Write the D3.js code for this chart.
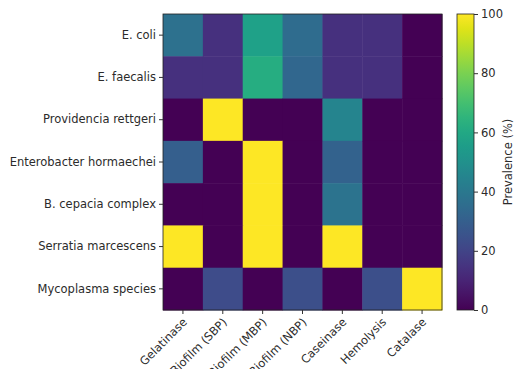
<!DOCTYPE html>
<html><head><meta charset="utf-8">
<script src="https://cdn.jsdelivr.net/npm/d3@7"></script>
<style>body{margin:0;background:#fff}svg{display:block}text{font-family:"DejaVu Sans",sans-serif;fill:#2b2b2b}</style>
</head><body>
<svg id="c" width="515" height="369"></svg>
<script>
const organisms = ["E. coli","E. faecalis","Providencia rettgeri","Enterobacter hormaechei","B. cepacia complex","Serratia marcescens","Mycoplasma species"];
const traits = ["Gelatinase","Biofilm (SBP)","Biofilm (MBP)","Biofilm (NBP)","Caseinase","Hemolysis","Catalase"];
const ecoli        = [37,14,57,35,14,14,0];
const efaecalis    = [14,14,62,33,14,14,0];
const providencia  = [0,100,0,0,45,0,0];
const enterobacter = [30,0,100,0,31,0,0];
const bcepacia     = [0,0,100,0,38,0,0];
const serratia     = [100,0,100,0,100,0,0];
const mycoplasma   = [0,23,0,24,0,24,100];
const colorbarTicks = [0,20,40,60,80,100];
const colorbarLabel = "Prevalence (%)";

const rows = [ecoli,efaecalis,providencia,enterobacter,bcepacia,serratia,mycoplasma];
const svg = d3.select("#c");
const L=163,R=442,T=14,B=310;
const FS="11.5px";
const x = d3.scaleBand().domain(traits).range([L,R]);
const y = d3.scaleBand().domain(organisms).range([T,B]);
const color = d3.scaleSequential(d3.interpolateViridis).domain([0,100]);

const cells=[];
rows.forEach((r,i)=>r.forEach((v,j)=>cells.push({o:organisms[i],t:traits[j],v})));
svg.append("g").selectAll("rect").data(cells).join("rect")
  .attr("x",d=>x(d.t)).attr("y",d=>y(d.o))
  .attr("width",x.bandwidth()+0.5).attr("height",y.bandwidth()+0.5)
  .attr("fill",d=>color(d.v));
svg.append("rect").attr("x",L).attr("y",T).attr("width",R-L).attr("height",B-T)
  .attr("fill","none").attr("stroke","#222").attr("stroke-width",0.8);

const ya = svg.append("g").attr("transform",`translate(${L},0)`)
  .call(d3.axisLeft(y).tickSize(4).tickPadding(3));
ya.select(".domain").remove();
ya.selectAll("text").attr("font-size",FS).attr("font-family","DejaVu Sans");
ya.selectAll("line").attr("stroke","#333");

const xa = svg.append("g").attr("transform",`translate(0,${B})`)
  .call(d3.axisBottom(x).tickSize(4).tickPadding(3));
xa.select(".domain").remove();
xa.selectAll("line").attr("stroke","#333");
xa.selectAll("text").attr("font-size",FS).attr("font-family","DejaVu Sans")
  .attr("text-anchor","end").attr("dy","0.35em")
  .attr("transform","translate(2,10) rotate(-45)").attr("x",0).attr("y",0);

// colorbar
const cbL=457,cbW=17;
const cy = d3.scaleLinear().domain([0,100]).range([B,T]);
const defs = svg.append("defs");
const grad = defs.append("linearGradient").attr("id","g").attr("x1",0).attr("y1",1).attr("x2",0).attr("y2",0);
d3.range(0,1.0001,0.05).forEach(t=>grad.append("stop").attr("offset",t).attr("stop-color",d3.interpolateViridis(t)));
svg.append("rect").attr("x",cbL).attr("y",T).attr("width",cbW).attr("height",B-T)
  .attr("fill","url(#g)").attr("stroke","#222").attr("stroke-width",0.8);
const ca = svg.append("g").attr("transform",`translate(${cbL+cbW},0)`)
  .call(d3.axisRight(cy).tickValues(colorbarTicks).tickSize(4).tickPadding(3));
ca.select(".domain").remove();
ca.selectAll("line").attr("stroke","#333");
ca.selectAll("text").attr("font-size",FS).attr("font-family","DejaVu Sans");
svg.append("text").attr("transform",`translate(512,${(T+B)/2}) rotate(-90)`)
  .attr("text-anchor","middle").attr("font-size",FS).text(colorbarLabel);
</script>
</body></html>
